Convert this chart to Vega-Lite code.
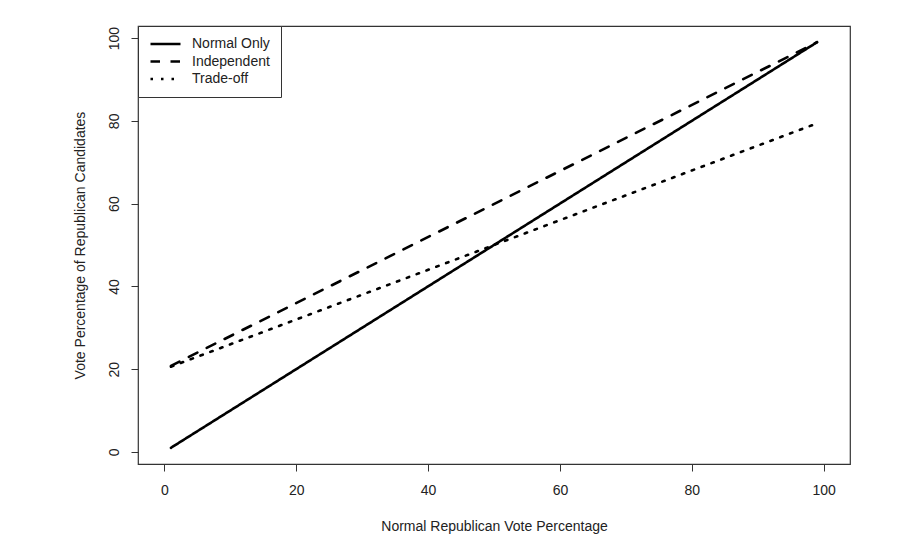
{
  "$schema": "https://vega.github.io/schema/vega-lite/v6.json",
  "width": 712,
  "height": 438,
  "autosize": {"type": "none"},
  "padding": {"left": 138, "top": 26, "right": 66, "bottom": 90},
  "background": "white",
  "config": {
    "font": "Liberation Sans",
    "view": {"stroke": "#333333", "strokeWidth": 1.2},
    "axis": {
      "grid": false,
      "domain": false,
      "tickColor": "#333333",
      "tickSize": 7,
      "tickWidth": 1,
      "labelFont": "Liberation Sans",
      "labelFontSize": 14,
      "labelColor": "#222222",
      "titleFont": "Liberation Sans",
      "titleFontSize": 14,
      "titleFontWeight": "normal",
      "titleColor": "#222222"
    }
  },
  "data": {
    "values": [
      {"series": "Normal Only", "x": 1, "y": 1},
      {"series": "Normal Only", "x": 99, "y": 99},
      {"series": "Independent", "x": 1, "y": 20.8},
      {"series": "Independent", "x": 99, "y": 99.0},
      {"series": "Trade-off", "x": 1, "y": 20.6},
      {"series": "Trade-off", "x": 99, "y": 79.4}
    ]
  },
  "mark": {"type": "line", "color": "black", "strokeWidth": 2.6, "strokeCap": "round"},
  "encoding": {
    "x": {
      "field": "x",
      "type": "quantitative",
      "scale": {"domain": [-4, 104], "nice": false, "zero": false},
      "axis": {
        "values": [0, 20, 40, 60, 80, 100],
        "title": "Normal Republican Vote Percentage",
        "labelPadding": 12,
        "titlePadding": 22
      }
    },
    "y": {
      "field": "y",
      "type": "quantitative",
      "scale": {"domain": [-2.92, 102.92], "nice": false, "zero": false},
      "axis": {
        "values": [0, 20, 40, 60, 80, 100],
        "title": "Vote Percentage of Republican Candidates",
        "labelAngle": 270,
        "labelAlign": "center",
        "labelBaseline": "bottom",
        "labelPadding": 10,
        "titlePadding": 20
      }
    },
    "detail": {"field": "series"},
    "strokeDash": {
      "field": "series",
      "type": "nominal",
      "scale": {
        "domain": ["Normal Only", "Independent", "Trade-off"],
        "range": [[1, 0], [9.5, 10.5], [2.5, 8]]
      },
      "legend": {
        "title": null,
        "orient": "top-left",
        "offset": 0,
        "padding": 11,
        "strokeColor": "#333333",
        "fillColor": "white",
        "symbolType": "stroke",
        "symbolSize": 900,
        "symbolStrokeWidth": 2.6,
        "symbolStrokeColor": "black",
        "labelFontSize": 14,
        "labelColor": "#222222",
        "labelOffset": 10,
        "clipHeight": 14,
        "rowPadding": 3.5
      }
    }
  }
}
